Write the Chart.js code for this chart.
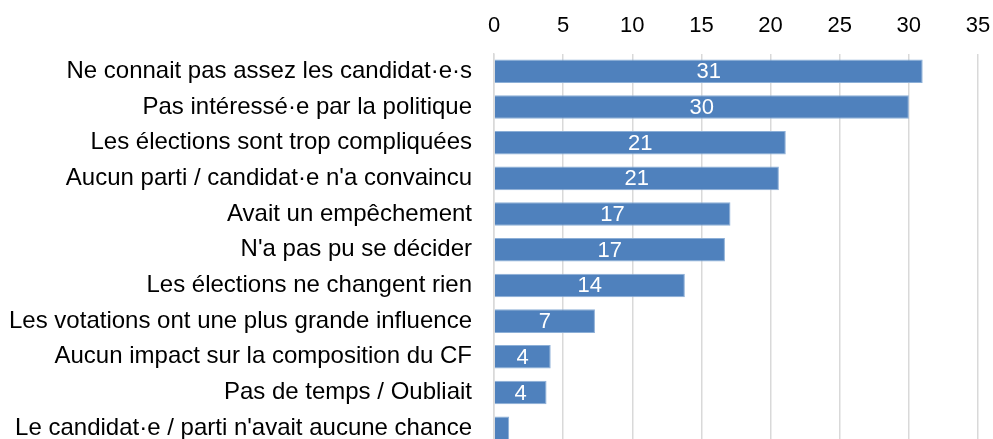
<!DOCTYPE html>
<html>
<head>
<meta charset="utf-8">
<script src="https://cdn.jsdelivr.net/npm/chart.js@4"></script>
<style>
  html, body { margin: 0; padding: 0; background: #fff; overflow: hidden; }
  canvas { display: block; }
</style>
</head>
<body>
<canvas id="chart" width="993" height="446"></canvas>
<script>
let categories = [
  "Ne connait pas assez les candidat·e·s",
  "Pas intéressé·e par la politique",
  "Les élections sont trop compliquées",
  "Aucun parti / candidat·e n'a convaincu",
  "Avait un empêchement",
  "N'a pas pu se décider",
  "Les élections ne changent rien",
  "Les votations ont une plus grande influence",
  "Aucun impact sur la composition du CF",
  "Pas de temps / Oubliait",
  "Le candidat·e / parti n'avait aucune chance",
];
let values = [31.0, 30.0, 21.1, 20.6, 17.1, 16.7, 13.8, 7.3, 4.1, 3.8, 1.1];
let barLabels = ["31", "30", "21", "21", "17", "17", "14", "7", "4", "4", ""];
let xTicks = [0, 5, 10, 15, 20, 25, 30, 35];

let font = "'Liberation Sans', Arial, sans-serif";

// white value labels in the middle of each bar
let valueLabels = {
  id: 'valueLabels',
  afterDatasetsDraw(chart) {
    let ctx = chart.ctx;
    let meta = chart.getDatasetMeta(0);
    ctx.save();
    ctx.fillStyle = '#ffffff';
    ctx.font = '22px ' + font;
    ctx.textAlign = 'center';
    ctx.textBaseline = 'middle';
    meta.data.forEach((bar, i) => {
      if (!barLabels[i]) return;
      let x = (bar.base + bar.x) / 2;
      ctx.fillText(barLabels[i], x, bar.y + 1);
    });
    ctx.restore();
  }
};

new Chart(document.getElementById('chart'), {
  type: 'bar',
  data: {
    labels: categories,
    datasets: [{
      data: values,
      backgroundColor: 'rgb(79, 129, 189)',
      borderColor: 'rgb(140, 175, 215)',
      borderWidth: 1,
      categoryPercentage: 1,
      barPercentage: 0.66,
    }],
  },
  options: {
    responsive: false,
    indexAxis: 'y',
    animation: false,
    layout: { padding: { left: 0, right: 15, top: 0, bottom: 0 } },
    plugins: { legend: { display: false }, tooltip: { enabled: false } },
    scales: {
      x: {
        position: 'top',
        min: 0,
        max: 35,
        afterBuildTicks: (scale) => { scale.ticks = xTicks.map(v => ({ value: v })); },
        afterFit: (scale) => {
          scale.height = 53.5;
          scale.paddingLeft = 0;
          scale.paddingRight = 0;
        },
        ticks: { color: '#000', font: { family: font, size: 22 }, padding: 14 },
        grid: { color: '#d9d9d9', lineWidth: 1.5, drawTicks: false },
        border: { display: false },
      },
      y: {
        afterFit: (scale) => {
          scale.width = 494;
          scale.paddingTop = 0;
          scale.paddingBottom = 0;
        },
        ticks: { color: '#000', font: { family: font, size: 24 }, padding: 22 },
        grid: { display: false, drawTicks: false },
        border: { color: '#d9d9d9', width: 1.5 },
      },
    },
  },
  plugins: [valueLabels],
});
</script>
</body>
</html>
